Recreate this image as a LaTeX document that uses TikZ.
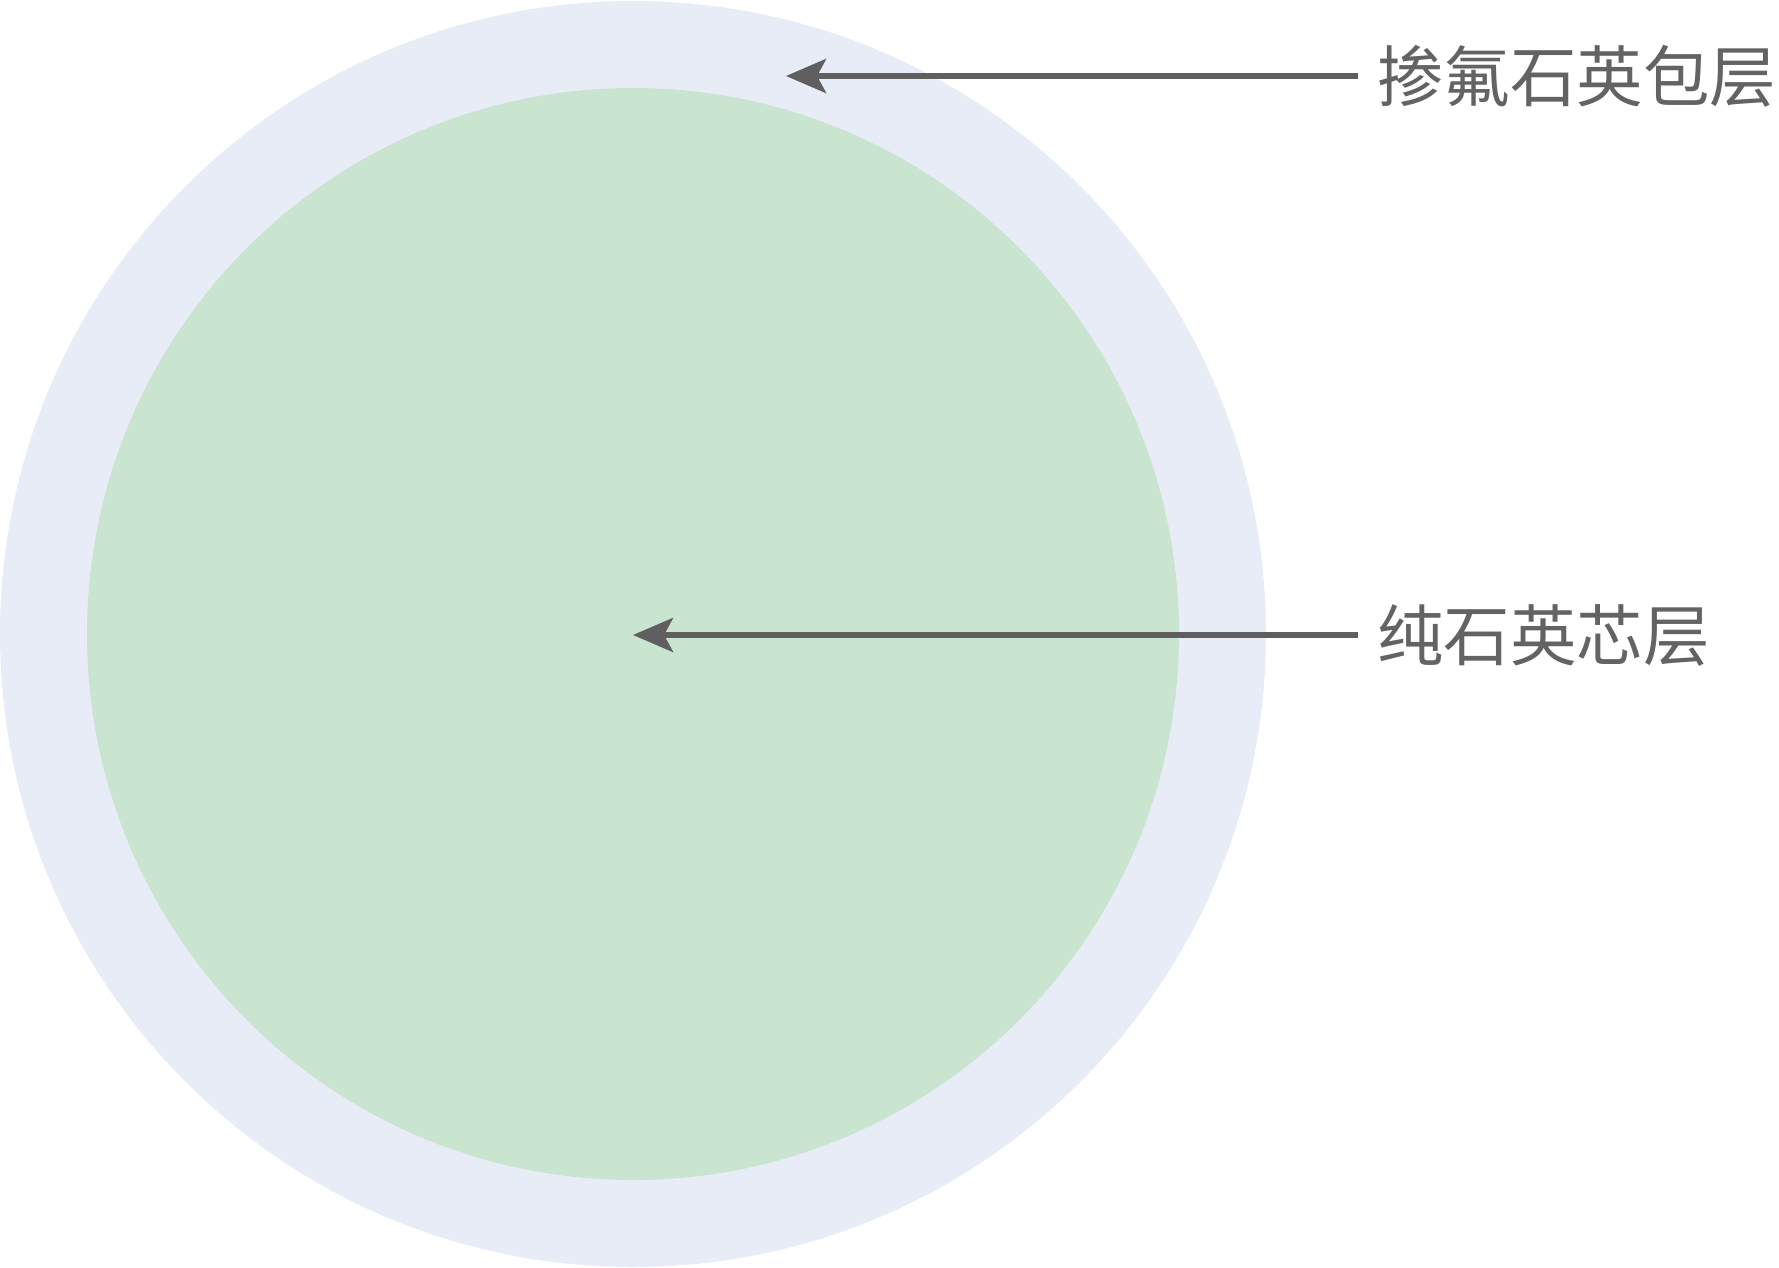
\documentclass[tikz,border=0pt]{standalone}
\usepackage{fontspec}
\newfontfamily\cjk{Noto Sans CJK SC}
\usetikzlibrary{arrows.meta}
\definecolor{outerc}{HTML}{E8ECF7}
\definecolor{innerc}{HTML}{CAE5CF}
\definecolor{linec}{HTML}{5F5F5F}
\definecolor{textc}{HTML}{636363}
\begin{document}
\begin{tikzpicture}[x=1pt,y=-1pt,
  arr/.style={draw=linec,line width=5.5pt,-{Stealth[length=40pt,width=34pt,inset=9pt]}},
  lbl/.style={font=\cjk\fontsize{66.5pt}{72pt}\selectfont,text=textc,inner sep=0pt,anchor=west}]
\useasboundingbox (0,0) rectangle (1779,1268);
\node[circle,fill=outerc,minimum size=1266pt,inner sep=0pt] (outer) at (633,634) {};
\node[circle,fill=innerc,minimum size=1092pt,inner sep=0pt] (inner) at (633,634) {};
\node[lbl] (t1) at (1377,76) {掺氟石英包层};
\node[lbl] (t2) at (1377,635) {纯石英芯层};
\coordinate (e1) at (786,76);
\draw[arr] ([xshift=-19pt]t1.west) -- (t1.west -| e1);
\draw[arr] ([xshift=-19pt]t2.west) -- (t2.west -| inner.center);
\end{tikzpicture}
\end{document}
